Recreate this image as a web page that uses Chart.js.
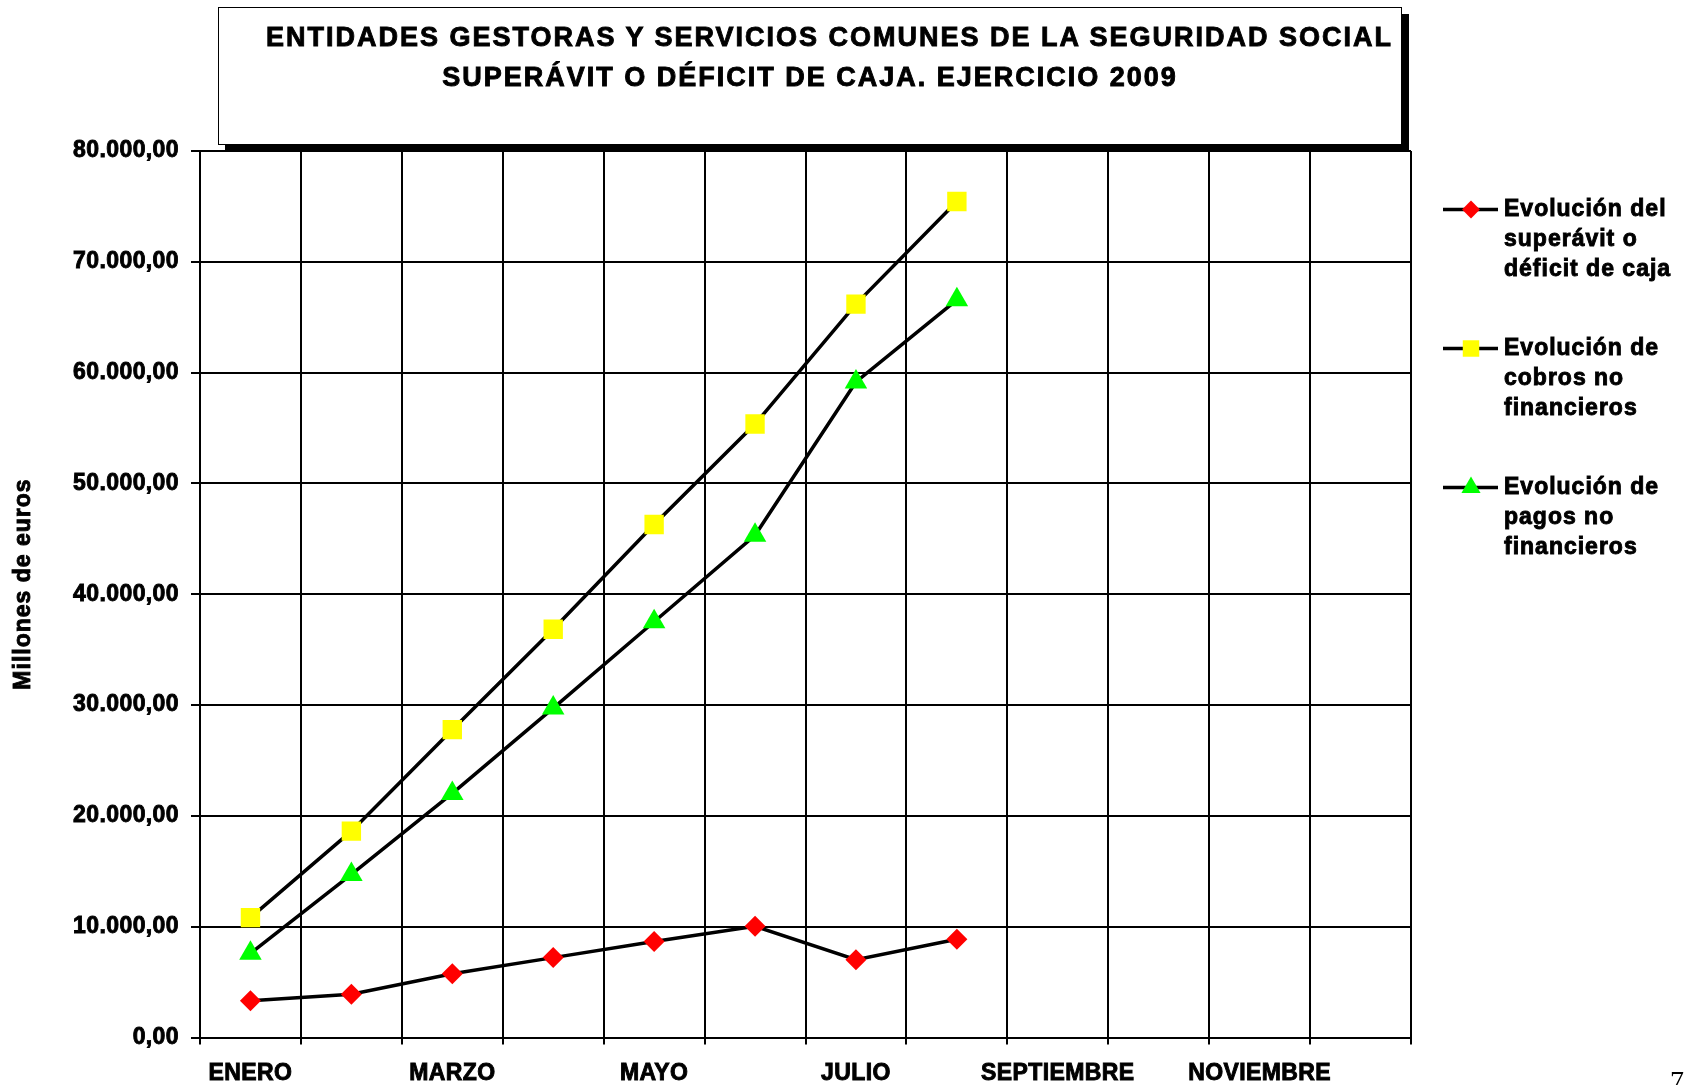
<!DOCTYPE html>
<html lang="es">
<head>
<meta charset="UTF-8" />
<title>Superávit o déficit de caja 2009</title>
<script src="https://cdn.jsdelivr.net/npm/chart.js"></script>
<style>
  html, body {
    margin: 0;
    padding: 0;
    background: #fff;
    overflow: hidden;
  }
  #wrap {
    position: relative;
    width: 1693px;
    height: 1085px;
  }
  #grafico {
    position: absolute;
    left: 0;
    top: 0;
  }
  .titulo {
    position: absolute;
    left: 218px;
    top: 7px;
    width: 1182px;
    height: 136px;
    border: 1.5px solid #000;
    background: #fff;
    box-shadow: 7px 7px 0 #000;
    font-family: Arial, "Liberation Sans", sans-serif;
    font-weight: bold;
    font-size: 27px;
    letter-spacing: 2px;
    -webkit-text-stroke: 0.9px #000;
    color: #000;
  }
  .titulo div {
    position: absolute;
    left: 0;
    width: 100%;
    text-align: center;
    line-height: 30px;
    white-space: nowrap;
  }
  .pagina {
    position: absolute;
    left: 1670px;
    top: 1067px;
    font-family: "Times New Roman", "Liberation Serif", serif;
    font-size: 28px;
    line-height: 1;
  }
</style>
</head>
<body>
<div id="wrap">
  <canvas id="grafico" width="1693" height="1085"></canvas>
  <div class="titulo">
    <div id="t1" style="top: 14px; padding-left: 39px; box-sizing: border-box;">ENTIDADES GESTORAS Y SERVICIOS COMUNES DE LA SEGURIDAD SOCIAL</div>
    <div id="t2" style="top: 54px;">SUPERÁVIT O DÉFICIT DE CAJA. EJERCICIO 2009</div>
  </div>
  <div class="pagina">7</div>
</div>

<script>
// datos (millones de euros)
const meses = ["ENERO", "FEBRERO", "MARZO", "ABRIL", "MAYO", "JUNIO",
  "JULIO", "AGOSTO", "SEPTIEMBRE", "OCTUBRE", "NOVIEMBRE", "DICIEMBRE"];
const superavit = [3310, 3900, 5750, 7210, 8670, 10040, 7020, 8870];
const cobros = [10820, 18620, 27780, 36840, 46300, 55360, 66180, 75440];
const pagos = [7600, 14720, 22030, 29730, 37520, 45320, 59160, 66570];
const leyenda = [
  ["Evolución del", "superávit o", "déficit de caja"],
  ["Evolución de", "cobros no", "financieros"],
  ["Evolución de", "pagos no", "financieros"]
];
const ejeY = "Millones de euros";

const fuente = "Arial, 'Liberation Sans', sans-serif";

function formatoES(v) {
  const entero = String(Math.round(v)).replace(/\B(?=(\d{3})+(?!\d))/g, ".");
  return entero + ",00";
}

// espaciado de letras para el texto que dibuja Chart.js
const espaciado = {
  id: "espaciado",
  beforeDraw(chart) {
    chart.ctx.letterSpacing = "0.4px";
  }
};

function marcador(ctx, estilo, r, x, y, color) {
  ctx.beginPath();
  if (estilo === "rect") {
    const s = r * Math.SQRT1_2;
    ctx.rect(x - s, y - s, 2 * s, 2 * s);
  } else if (estilo === "rectRot") {
    ctx.moveTo(x, y - r); ctx.lineTo(x + r, y); ctx.lineTo(x, y + r); ctx.lineTo(x - r, y);
    ctx.closePath();
  } else {
    ctx.moveTo(x, y - r);
    ctx.lineTo(x + r * Math.sin(2 * Math.PI / 3), y - r * Math.cos(2 * Math.PI / 3));
    ctx.lineTo(x + r * Math.sin(4 * Math.PI / 3), y - r * Math.cos(4 * Math.PI / 3));
    ctx.closePath();
  }
  ctx.fillStyle = color;
  ctx.fill();
}

// leyenda a la derecha y título del eje Y
const textosPlugin = {
  id: "textosPlugin",
  afterDraw(chart) {
    const ctx = chart.ctx;
    ctx.save();
    ctx.font = "bold 23px " + fuente;
    ctx.fillStyle = "#000";
    ctx.strokeStyle = "#000";
    chart.data.datasets.forEach((ds, i) => {
      const y0 = 209.5 + i * 139;
      ctx.lineWidth = 3.5;
      ctx.beginPath();
      ctx.moveTo(1443, y0);
      ctx.lineTo(1498, y0);
      ctx.stroke();
      marcador(ctx, ds.pointStyle, ds.pointRadius * 0.85, 1471, y0, ds.pointBackgroundColor);
      ctx.fillStyle = "#000";
      ctx.letterSpacing = "1px";
      ctx.lineWidth = 0.9;
      ctx.textAlign = "left";
      ctx.textBaseline = "middle";
      leyenda[i].forEach((linea, k) => {
        ctx.fillText(linea, 1504, y0 + k * 30.2);
        ctx.strokeText(linea, 1504, y0 + k * 30.2);
      });
    });

    ctx.translate(23.5, 584);
    ctx.rotate(-Math.PI / 2);
    ctx.letterSpacing = "1px";
    ctx.lineWidth = 0.9;
    ctx.textAlign = "center";
    ctx.textBaseline = "middle";
    ctx.fillText(ejeY, 0, 0);
    ctx.strokeText(ejeY, 0, 0);
    ctx.restore();
  }
};

const fuenteEje = { family: fuente, size: 23, weight: "bold" };

new Chart(document.getElementById("grafico"), {
  type: "line",
  data: {
    labels: meses,
    datasets: [
      {
        label: leyenda[0].join(" "),
        data: superavit,
        borderColor: "#000",
        borderWidth: 3.5,
        pointStyle: "rectRot",
        pointRadius: 10.5,
        pointHoverRadius: 10.5,
        pointBackgroundColor: "#FF0000",
        pointBorderColor: "#FF0000",
        pointBorderWidth: 0,
        tension: 0
      },
      {
        label: leyenda[1].join(" "),
        data: cobros,
        borderColor: "#000",
        borderWidth: 3.5,
        pointStyle: "rect",
        pointRadius: 13.7,
        pointHoverRadius: 13.7,
        pointBackgroundColor: "#FFFF00",
        pointBorderColor: "#FFFF00",
        pointBorderWidth: 0,
        tension: 0
      },
      {
        label: leyenda[2].join(" "),
        data: pagos,
        borderColor: "#000",
        borderWidth: 3.5,
        pointStyle: "triangle",
        pointRadius: 13,
        pointHoverRadius: 13,
        pointBackgroundColor: "#00FF00",
        pointBorderColor: "#00FF00",
        pointBorderWidth: 0,
        tension: 0
      }
    ]
  },
  options: {
    responsive: false,
    animation: false,
    layout: {
      padding: { top: 151, right: 282, bottom: 0, left: 0 }
    },
    plugins: {
      legend: { display: false },
      title: { display: false },
      tooltip: { enabled: false }
    },
    scales: {
      x: {
        offset: true,
        grid: {
          offset: true,
          color: "#000",
          lineWidth: 2,
          tickLength: 7,
          tickColor: "#000"
        },
        border: { color: "#000", width: 2 },
        ticks: {
          autoSkip: false,
          maxRotation: 0,
          padding: 15,
          color: "#000",
          textStrokeColor: "#000",
          textStrokeWidth: 0.9,
          font: fuenteEje,
          callback: function (v, i) {
            return i % 2 === 0 ? meses[i] : "";
          }
        },
        afterFit(scale) {
          scale.height = 47.5;
        }
      },
      y: {
        min: 0,
        max: 80000,
        grid: {
          color: "#000",
          lineWidth: 2,
          tickLength: 9,
          tickColor: "#000"
        },
        border: { color: "#000", width: 2 },
        ticks: {
          stepSize: 10000,
          padding: 12,
          color: "#000",
          textStrokeColor: "#000",
          textStrokeWidth: 0.9,
          font: fuenteEje,
          callback: function (v) {
            return formatoES(v);
          }
        },
        afterFit(scale) {
          scale.width = 200;
        }
      }
    }
  },
  plugins: [espaciado, textosPlugin]
});
</script>
</body>
</html>
